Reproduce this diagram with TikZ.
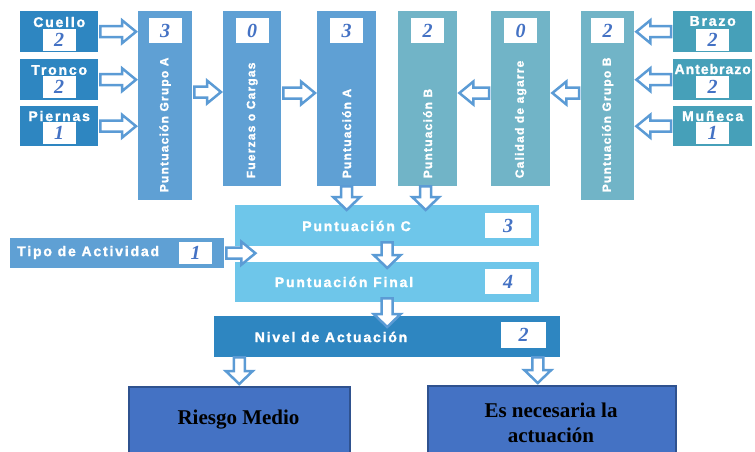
\documentclass[tikz,border=0pt]{standalone}
\usepackage{fontspec}
\setmainfont{Liberation Serif}
\newfontfamily\lblfont{Liberation Sans}[UprightFont={* Bold}, LetterSpace=13, FakeBold=1.6]
\newfontfamily\vlblfont{Liberation Sans}[UprightFont={* Bold}, LetterSpace=10, FakeBold=1.6]
\newfontfamily\antefont{Liberation Sans}[UprightFont={* Bold}, LetterSpace=7, FakeBold=1.6]
\usetikzlibrary{calc}
\definecolor{dkblue}{HTML}{2E86C1}
\definecolor{midblue}{HTML}{5FA0D4}
\definecolor{tealA}{HTML}{71B4C7}
\definecolor{tealB}{HTML}{46A0B9}
\definecolor{skyblue}{HTML}{6EC6EA}
\definecolor{arrowblue}{HTML}{5B9BD5}
\definecolor{numblue}{HTML}{4472C4}
\definecolor{resblue}{HTML}{4472C4}
\definecolor{resborder}{HTML}{2F528F}
\begin{document}
\begin{tikzpicture}[x=1pt,y=-1pt,
  box/.style={anchor=north west, inner sep=0pt, draw=none},
  smallbox/.style={box, fill=#1, minimum width=78pt, minimum height=41pt},
  tallbox/.style={box, fill=#1, minimum width=58pt, minimum height=175pt},
  boxtitle/.style={text=white, inner sep=0pt, font=\lblfont\fontsize{14}{16}\selectfont},
  vboxtitle/.style={text=white, inner sep=0pt, rotate=90, anchor=west, font=\vlblfont\fontsize{12}{14}\selectfont},
  valbox/.style={fill=white, inner sep=0pt, minimum width=33pt, minimum height=22pt, text=numblue, font=\bfseries\itshape\fontsize{20}{20}\selectfont},
  resbox/.style={box, fill=resblue, draw=resborder, line width=1.5pt},
  restext/.style={inner sep=0pt, align=center, text=black, font=\bfseries\fontsize{21}{25}\selectfont},
  barrow/.style={draw=arrowblue, fill=white, line width=2.5pt, line join=miter},
  rarrow/.style={barrow, to path={let \p1=(\tikztostart), \p2=(\tikztotarget) in
     (\x1+2pt,\y1+5.5pt) -- (\x2-16pt,\y1+5.5pt) -- (\x2-16pt,\y1+11.5pt) -- (\x2-2pt,\y1)
     -- (\x2-16pt,\y1-11.5pt) -- (\x2-16pt,\y1-5.5pt) -- (\x1+2pt,\y1-5.5pt) -- cycle}},
  larrow/.style={barrow, to path={let \p1=(\tikztostart), \p2=(\tikztotarget) in
     (\x1-2pt,\y1+5.5pt) -- (\x2+16pt,\y1+5.5pt) -- (\x2+16pt,\y1+11.5pt) -- (\x2+2pt,\y1)
     -- (\x2+16pt,\y1-11.5pt) -- (\x2+16pt,\y1-5.5pt) -- (\x1-2pt,\y1-5.5pt) -- cycle}},
  darrow/.style={barrow, to path={let \p1=(\tikztostart), \p2=(\tikztotarget) in
     (\x1+5.5pt,\y1) -- (\x1+5.5pt,\y2+13pt) -- (\x1+13.5pt,\y2+13pt) -- (\x1,\y2)
     -- (\x1-13.5pt,\y2+13pt) -- (\x1-5.5pt,\y2+13pt) -- (\x1-5.5pt,\y1) -- cycle}}
]
\useasboundingbox (0,0) rectangle (755,451);

% left input boxes
\node[smallbox=dkblue] (Cuello) at (20,11) {};
\node[smallbox=dkblue] (Tronco) at (20,59) {};
\node[smallbox=dkblue, minimum height=40pt] (Piernas) at (20,106) {};
\node[boxtitle] (tCuello) at ($(Cuello.north)+(0,11)$) {Cuello};
\node[boxtitle] (tTronco) at ($(Tronco.north)+(0,11)$) {Tronco};
\node[boxtitle] (tPiernas) at ($(Piernas.north)+(0,10)$) {Piernas};
\node[valbox] (vCuello) at ($(Cuello.north)+(0,28.5)$) {2};
\node[valbox] (vTronco) at ($(Tronco.north)+(0,28)$) {2};
\node[valbox] (vPiernas) at ($(Piernas.north)+(0,27)$) {1};

% right input boxes
\node[smallbox=tealB, minimum width=79pt] (Brazo) at (673,11) {};
\node[smallbox=tealB, minimum width=79pt] (Antebrazo) at (673,59) {};
\node[smallbox=tealB, minimum width=79pt, minimum height=40pt] (Muneca) at (673,106) {};
\node[boxtitle] (tBrazo) at ($(Brazo.north)+(0,10)$) {Brazo};
\node[boxtitle, font=\antefont\fontsize{14}{16}\selectfont] (tAntebrazo) at ($(Antebrazo.north)+(0,10)$) {Antebrazo};
\node[boxtitle] (tMuneca) at ($(Muneca.north)+(0,10)$) {Muñeca};
\node[valbox] (vBrazo) at ($(Brazo.north)+(0,29)$) {2};
\node[valbox] (vAntebrazo) at ($(Antebrazo.north)+(0,28)$) {2};
\node[valbox] (vMuneca) at ($(Muneca.north)+(0,27)$) {1};

% tall boxes
\node[tallbox=midblue, minimum width=54pt, minimum height=189pt] (GrupoA) at (138,11) {};
\node[tallbox=midblue] (Fuerzas) at (223,11) {};
\node[tallbox=midblue, minimum width=59pt] (PuntA) at (317,11) {};
\node[tallbox=tealA, minimum width=59pt] (PuntB) at (398,11) {};
\node[tallbox=tealA, minimum width=59pt] (Calidad) at (491,11) {};
\node[tallbox=tealA, minimum width=53pt, minimum height=189pt] (GrupoB) at (581,11) {};
\node[vboxtitle] (tGrupoA) at ($(GrupoA.south)+(0,-8)$) {Puntuación Grupo A};
\node[vboxtitle] (tFuerzas) at ($(Fuerzas.south)+(0,-8)$) {Fuerzas o Cargas};
\node[vboxtitle] (tPuntA) at ($(PuntA.south)+(0,-8)$) {Puntuación A};
\node[vboxtitle] (tPuntB) at ($(PuntB.south)+(0,-8)$) {Puntuación B};
\node[vboxtitle] (tCalidad) at ($(Calidad.south)+(0,-8)$) {Calidad de agarre};
\node[vboxtitle] (tGrupoB) at ($(GrupoB.south)+(0,-8)$) {Puntuación Grupo B};
\node[valbox, minimum height=25pt] (vGrupoA) at ($(GrupoA.north)+(0,19.5)$) {3};
\node[valbox, minimum height=25pt] (vFuerzas) at ($(Fuerzas.north)+(0,19.5)$) {0};
\node[valbox, minimum height=25pt] (vPuntA) at ($(PuntA.north)+(0,19.5)$) {3};
\node[valbox, minimum height=25pt] (vPuntB) at ($(PuntB.north)+(0,19.5)$) {2};
\node[valbox, minimum height=25pt] (vCalidad) at ($(Calidad.north)+(0,19.5)$) {0};
\node[valbox, minimum height=25pt] (vGrupoB) at ($(GrupoB.north)+(0,19.5)$) {2};

% lower boxes
\node[box, fill=skyblue, minimum width=304pt, minimum height=41pt] (PuntC) at (235,205) {};
\node[box, fill=skyblue, minimum width=304pt, minimum height=40pt] (Final) at (235,262) {};
\node[box, fill=dkblue, minimum width=346pt, minimum height=41pt] (Nivel) at (214,316) {};
\node[box, fill=midblue, minimum width=214pt, minimum height=30pt] (Tipo) at (10,238) {};
\node[boxtitle] (tPuntC) at (356.5,226) {Puntuación C};
\node[boxtitle] (tFinal) at (344,282) {Puntuación Final};
\node[boxtitle] (tNivel) at (331,337) {Nivel de Actuación};
\node[boxtitle, anchor=west] (tTipo) at (17,252.5) {Tipo de Actividad};
\node[valbox, minimum width=46pt, minimum height=25pt] (vPuntC) at (508,225.5) {3};
\node[valbox, minimum width=46pt, minimum height=25pt] (vFinal) at (508,281.5) {4};
\node[valbox, minimum width=45pt, minimum height=26pt] (vNivel) at (523.5,335) {2};
\node[valbox] (vTipo) at (195.5,253) {1};
\coordinate (tipoend) at ($(Tipo.east)+(33,0)$);

% result boxes
\node[resbox, minimum width=221pt, minimum height=75pt] (Riesgo) at (128,386) {};
\node[resbox, minimum width=248pt, minimum height=76pt] (Es) at (427,385) {};
\node[restext] (tRiesgo) at (238.5,420) {Riesgo Medio};
\node[restext] (tEs) at (551,423) {Es necesaria la\\actuación};

% block arrows
\draw[rarrow] (Cuello.east) to (GrupoA.west);
\draw[rarrow] (Tronco.east) to (GrupoA.west);
\draw[rarrow] (Piernas.east) to (GrupoA.west);
\draw[larrow] (Brazo.west) to (GrupoB.east);
\draw[larrow] (Antebrazo.west) to (GrupoB.east);
\draw[larrow] (Muneca.west) to (GrupoB.east);
\draw[rarrow] ($(GrupoA.north east)+(0,81)$) to (Fuerzas.west);
\draw[rarrow] ($(Fuerzas.north east)+(0,82)$) to (PuntA.west);
\draw[larrow] ($(GrupoB.north west)+(0,82)$) to (Calidad.east);
\draw[larrow] ($(Calidad.north west)+(0,82)$) to (PuntB.east);
\draw[darrow] (PuntA.south) to ($(PuntC.north)+(0,5)$);
\draw[darrow] ($(PuntB.south)+(-2,0)$) to ($(PuntC.north)+(0,5)$);
\draw[darrow] ($(PuntC.south)+(0,-4)$) to ($(Final.north)+(0,6)$);
\draw[darrow] ($(Final.south)+(0,-4)$) to ($(Nivel.north)+(0,11)$);
\draw[rarrow] (Tipo.east) to (tipoend);
\draw[darrow] (Nivel.south -| Riesgo.north) to ($(Riesgo.north)+(0,-2)$);
\draw[darrow] ($(Nivel.south -| Es.north)+(-14,0)$) to ($(Es.north)+(0,-2)$);
\end{tikzpicture}
\end{document}
